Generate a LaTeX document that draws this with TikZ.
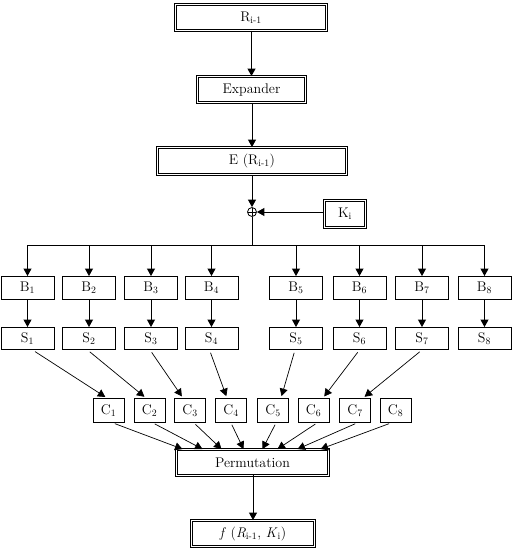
\documentclass[tikz,border=0pt]{standalone}
\usetikzlibrary{arrows.meta}
\begin{document}
\begin{tikzpicture}[x=1pt,y=-1pt,
  every node/.style={font=\fontsize{14}{16}\selectfont, inner sep=0pt, anchor=center},
  sbox/.style={draw, line width=0.9pt, rectangle},
  dbox/.style={draw, double, double distance=1.1pt, line width=0.85pt},
  arr/.style={line width=0.9pt, -{Triangle[length=7.5pt,width=8pt]}},
  ln/.style={line width=0.9pt},
  xorc/.style={draw, circle, line width=0.8pt, minimum size=9pt,
    path picture={\draw[line width=0.8pt] (path picture bounding box.north) -- (path picture bounding box.south)
      (path picture bounding box.west) -- (path picture bounding box.east);}}]
\useasboundingbox (0,0) rectangle (513,552);

% top chain
\node[dbox, minimum width=151pt, minimum height=26pt] (R) at (251,17.5) {R\textsubscript{i-1}};
\node[dbox, minimum width=108pt, minimum height=26pt] (Exp) at (251.5,89.5) {Expander};
\node[dbox, minimum width=189pt, minimum height=27pt] (E) at (252,161) {E (R\textsubscript{i-1})};
\node[dbox, minimum width=41pt, minimum height=27pt] (K) at (345,214) {K\textsubscript{i}};
\node[xorc] (X) at (252,212) {};
\coordinate (bus) at (252,245);

\draw[arr] (Exp.north |- R.south) -- (Exp.north);
\draw[arr] (E.north |- Exp.south) -- (E.north);
\draw[arr] (X.north |- E.south) -- (X.north);
\draw[arr] (X.east -| K.west) -- (X.east);
\draw[ln] (X.south) -- (bus);

% B and S boxes
\foreach \i/\x in {1/27.5,2/89,3/151,4/211.5,5/296,6/359.5,7/422,8/484.5}{
  \node[sbox, minimum width=53pt, minimum height=23pt] (B\i) at (\x,288) {B\textsubscript{\i}};
  \node[sbox, minimum width=53pt, minimum height=22pt] (S\i) at (\x,338.5) {S\textsubscript{\i}};
  \draw[arr] (B\i.north |- bus) -- (B\i.north);
  \draw[arr] (B\i.south) -- (S\i.north);
}
\draw[ln] (B1.north |- bus) -- (B8.north |- bus);

% C boxes
\foreach \i/\x in {1/108.5,2/149.5,3/190,4/231,5/273,6/313.5,7/355,8/395.5}{
  \node[sbox, minimum width=31pt, minimum height=24pt] (C\i) at (\x,410.5) {C\textsubscript{\i}};
}

\node[dbox, minimum width=152pt, minimum height=26pt] (P) at (252.5,462.5) {Permutation};
\node[dbox, minimum width=123pt, minimum height=26pt] (F) at (253,533.5) {\textit{f} (\textit{R}\textsubscript{i-1}, \textit{K}\textsubscript{i})};

% S -> C
\foreach \i/\a/\b in {1/5/-1.5,2/-1.5/-3.5,3/-1/-7,4/-2/-4,5/-1/8,6/0/9.5,7/0/8}{
  \draw[arr, line width=0.7pt, shorten <=3pt, shorten >=2pt]
    ([xshift=\a pt]S\i.south) -- ([xshift=\b pt]C\i.north);
}

% C -> Permutation
\foreach \i/\a/\b in {1/4.5/-70,2/3.5/-50,3/4/-31,4/0/-9,5/3/10,6/3.5/25,7/2/45,8/-4.5/68}{
  \draw[arr, line width=0.7pt, shorten <=2pt]
    ([xshift=\a pt]C\i.south) -- ([xshift=\b pt]P.north);
}

\draw[arr] (P.south) -- (F.north |- P.south) -- (F.north);
\end{tikzpicture}
\end{document}
